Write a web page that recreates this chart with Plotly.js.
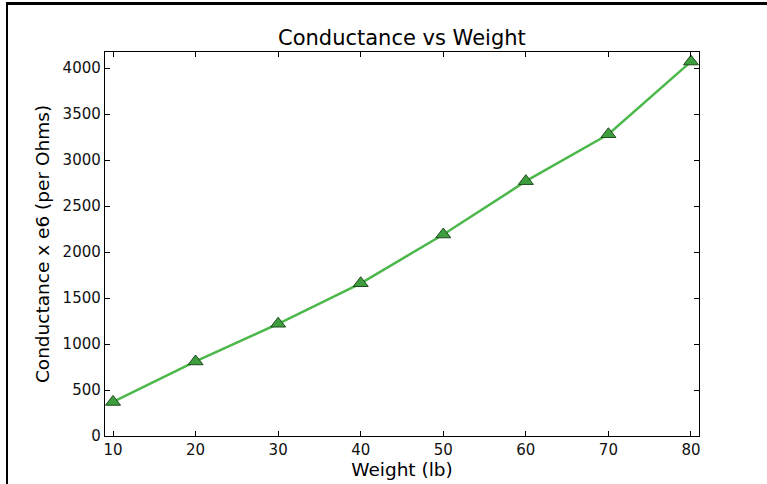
<!DOCTYPE html>
<html>
<head>
<meta charset="utf-8">
<script src="https://cdn.plot.ly/plotly-3.0.1.min.js"></script>
<style>
  html, body { margin: 0; padding: 0; background: #fff; }
  #wrap { position: relative; width: 767px; height: 484px; overflow: hidden; }
  #frame { position: absolute; left: 6px; top: 2px; width: 800px; height: 479px;
           border-left: 2px solid #000; border-top: 3px solid #000; border-bottom: 2px solid #bbb;
           pointer-events: none; z-index: 5; }
  #chart { position: absolute; left: 0; top: 0; width: 767px; height: 484px; }
</style>
</head>
<body>
<div id="wrap">
  <div id="chart"></div>
  <div id="frame"></div>
</div>
<script>
const weights = [10, 20, 30, 40, 50, 60, 70, 80];
const conductance = [370, 810, 1220, 1660, 2190, 2770, 3280, 4070];
const xTicks = [10, 20, 30, 40, 50, 60, 70, 80];
const yTicks = [0, 500, 1000, 1500, 2000, 2500, 3000, 3500, 4000];

const font = "DejaVu Sans, sans-serif";

const trace = {
  x: weights,
  y: conductance,
  mode: "lines+markers",
  type: "scatter",
  line: { color: "#4cb84c", width: 2.5 },
  marker: { symbol: "triangle-up", size: 13, color: "#3e9e3e",
            line: { color: "#1e4a1e", width: 1 } },
  showlegend: false
};

const axisCommon = {
  showline: true, linecolor: "#000", linewidth: 1.2, mirror: "ticks",
  ticks: "inside", ticklen: 5, tickcolor: "#000", tickwidth: 1,
  showgrid: false, zeroline: false,
  tickfont: { family: font, size: 15, color: "#111" }
};

const layout = {
  width: 767, height: 484,
  margin: { l: 105, r: 68, t: 52, b: 48 },
  paper_bgcolor: "#fff", plot_bgcolor: "#fff",
  font: { family: font },
  title: { text: "Conductance vs Weight", font: { family: font, size: 21, color: "#000" },
           x: 0.524, xanchor: "center", y: 1 - 38 / 484, yanchor: "middle", yref: "container" },
  xaxis: Object.assign({}, axisCommon, {
    range: [9.03, 80.97], tickvals: xTicks, ticktext: xTicks.map(String),
    title: { text: "Weight (lb)", font: { family: font, size: 18.5, color: "#000" }, standoff: 4 }
  }),
  yaxis: Object.assign({}, axisCommon, {
    range: [0, 4174], tickvals: yTicks, ticktext: yTicks.map(String),
    title: { text: "Conductance x e6 (per Ohms)", font: { family: font, size: 18.5, color: "#000" }, standoff: 8 }
  })
};

Plotly.newPlot("chart", [trace], layout, { displayModeBar: false, staticPlot: true });
</script>
</body>
</html>
